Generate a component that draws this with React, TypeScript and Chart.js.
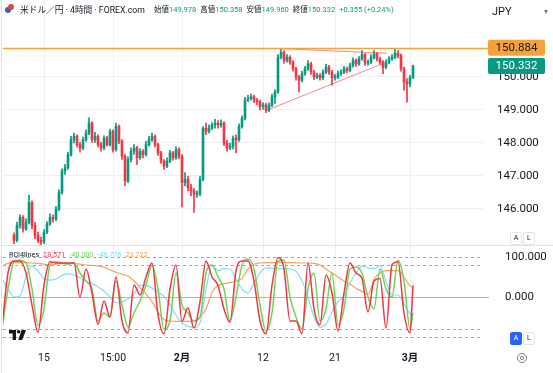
import React, { useEffect, useRef } from "react";
import { Chart, registerables } from "chart.js";
Chart.register(...registerables);

const FONT = 'Roboto, "Noto Sans CJK JP", sans-serif';
const UP = "#089981";
const DOWN = "#f23645";
const ORANGE = "#f5a23a";
const TEXT = "#131722";

// ---- price data (4h candles) ----
const opens = [145.2,145.05,145.5,145.75,145.4,145.6,146.2,145.5,145.2,145.05,
145.0,145.3,145.55,145.75,145.7,146.0,146.5,147.15,147.25,147.65,
148.1,148.2,147.95,147.85,148.1,148.3,148.6,148.1,148.2,147.95,
147.85,148.15,147.95,148.35,147.8,148.5,148.05,147.6,146.85,147.5,
147.75,147.85,147.55,147.75,147.65,147.95,148.1,148.2,147.95,147.7,
147.45,147.3,147.45,147.7,147.55,147.8,147.6,146.8,146.9,146.65,
146.55,146.45,146.45,146.9,148.45,148.35,148.45,148.55,148.6,148.55,
148.6,148.0,147.85,147.9,148.15,148.1,148.5,148.75,149.3,149.35,
149.4,149.3,149.25,149.1,149.15,149.0,149.15,149.4,149.55,150.6,
150.75,150.5,150.6,150.45,150.25,150.0,149.9,150.1,150.25,150.4,
150.15,150.0,150.05,149.98,150.15,150.3,150.15,149.98,150.0,150.1,
150.15,150.25,150.2,150.35,150.5,150.4,150.55,150.68,150.42,150.45,
150.6,150.7,150.55,150.45,150.3,150.45,150.55,150.6,150.72,150.65,
150.25,149.85,149.8,149.978];
const highs = [145.28,145.6,145.82,145.8,145.7,146.42,146.25,145.6,145.3,145.15,
145.38,145.62,145.85,145.82,146.08,146.58,147.22,147.35,147.72,148.2,
148.3,148.25,148.02,148.18,148.4,148.76,148.65,148.32,148.25,148.02,
148.22,148.2,148.42,148.4,148.6,148.55,148.1,147.65,147.58,147.85,
147.95,147.9,147.82,147.8,148.05,148.2,148.3,148.25,148.0,147.75,
147.5,147.55,147.78,147.75,147.88,147.85,147.65,147.1,147.0,146.75,
146.62,146.55,147.0,148.5,148.6,148.55,148.62,148.72,148.68,148.7,
148.65,148.08,148.0,148.22,148.25,148.58,148.82,149.38,149.45,149.48,
149.45,149.35,149.3,149.22,149.2,149.22,149.48,149.62,150.68,150.86,
150.8,150.68,150.65,150.5,150.3,150.05,150.18,150.32,150.5,150.45,
150.2,150.12,150.1,150.22,150.38,150.35,150.2,150.08,150.18,150.22,
150.32,150.3,150.42,150.58,150.55,150.62,150.8,150.72,150.52,150.68,
150.8,150.75,150.6,150.5,150.52,150.62,150.68,150.87,150.8,150.7,
150.3,149.95,150.05,150.358];
const lows = [144.95,145.0,145.42,145.3,145.35,145.55,145.4,145.1,144.98,144.92,
144.95,145.25,145.5,145.6,145.65,145.95,146.45,147.05,147.2,147.6,
148.0,147.88,147.72,147.8,148.05,148.25,148.02,148.02,147.88,147.75,
147.8,147.9,147.9,147.72,147.75,147.98,147.5,146.7,146.8,147.42,
147.65,147.35,147.5,147.55,147.6,147.9,148.05,147.88,147.62,147.38,
147.2,147.25,147.4,147.48,147.5,147.52,146.06,146.7,146.55,146.4,
145.9,146.35,146.4,146.85,148.25,148.3,148.4,148.45,148.45,148.48,
147.92,147.75,147.8,147.82,147.7,148.05,148.45,148.7,149.25,149.3,
149.22,149.15,149.0,149.02,148.92,148.95,149.1,149.2,149.5,150.55,
150.42,150.45,150.38,150.18,149.9,149.55,149.85,150.05,150.2,150.08,
149.92,149.95,149.9,149.92,150.1,150.08,149.75,149.9,149.95,150.05,
150.1,150.12,150.15,150.3,150.32,150.35,150.5,150.35,150.35,150.4,
150.55,150.48,150.38,150.1,150.25,150.4,150.5,150.55,150.58,150.18,
149.6,149.24,149.7,149.96];
const closes = [145.05,145.5,145.75,145.4,145.6,146.2,145.5,145.2,145.05,145.0,
145.3,145.55,145.75,145.7,146.0,146.5,147.15,147.25,147.65,148.1,
148.2,147.95,147.85,148.1,148.3,148.6,148.1,148.2,147.95,147.85,
148.15,147.95,148.35,147.8,148.5,148.05,147.6,146.85,147.5,147.75,
147.85,147.55,147.75,147.65,147.95,148.1,148.2,147.95,147.7,147.45,
147.3,147.45,147.7,147.55,147.8,147.6,146.8,146.9,146.65,146.55,
146.45,146.45,146.9,148.45,148.35,148.45,148.55,148.6,148.55,148.6,
148.0,147.85,147.9,148.15,148.1,148.5,148.75,149.3,149.35,149.4,
149.3,149.25,149.1,149.15,149.0,149.15,149.4,149.55,150.6,150.75,
150.5,150.6,150.45,150.25,150.0,149.9,150.1,150.25,150.4,150.15,
150.0,150.05,149.98,150.15,150.3,150.15,149.98,150.0,150.1,150.15,
150.25,150.2,150.35,150.5,150.4,150.55,150.68,150.42,150.45,150.6,
150.7,150.55,150.45,150.3,150.45,150.55,150.6,150.72,150.65,150.25,
149.85,149.8,149.978,150.332];

const timeTickIdx = [10, 33, 56, 83, 107, 132];
const timeTickLabels = ["15", "15:00", "2月", "12", "21", "3月"];
const boldTickLabels = ["2月", "3月"];
const priceTicks = [146, 147, 148, 149, 150];
const resistanceLevel = 150.884;
const trendUpperIdx = [88.7, 124.3];
const trendUpperPrice = [150.86, 150.72];
const trendLowerIdx = [83.7, 123.3];
const trendLowerPrice = [148.97, 150.42];

// ---- RCI 4 lines ----
const rciIdx = [-4,-2,0,2,4,6,8,10,12,14,
16,18,20,22,24,26,28,30,32,34,
36,38,40,42,44,46,48,50,52,54,
56,58,60,62,64,66,68,70,72,74,
76,78,80,82,84,86,88,90,92,94,
96,98,100,102,104,106,108,110,112,114,
116,118,120,122,124,126,128,130,132,133];
const rciShort = [-76,60,90,90,60,-20,-88,30,88,85,
85,85,85,0,70,10,-68,-10,-50,50,
-60,-90,30,5,50,85,-44,-92,20,80,
-61,-27,-78,-12,90,50,29,-30,-63,65,
90,90,40,-60,-92,29,98,70,-60,-60,
-92,85,-30,-70,55,10,-85,10,85,60,
46,-37,40,46,-78,80,88,-40,-90,28.571];
const rciMid = [-80,20,88,92,85,20,-70,-30,80,88,
85,82,85,60,40,20,-60,-40,-50,40,
-20,-75,-40,-10,30,80,20,-80,-60,60,
-20,-40,-60,-50,60,80,50,20,-60,0,
80,95,70,-20,-85,-40,90,92,0,-50,
-80,20,60,-60,-30,60,-70,-30,70,75,
60,0,-30,70,20,0,92,40,-80,-40];
const rciLong = [46,20,0,2,50,78,65,45,42,45,
54,58,55,48,40,34,25,15,0,-15,
-12,-5,8,29,29,22,12,2,-20,-45,
-65,-73,-76,-65,20,78,66,71,70,45,
20,10,35,60,73,72,71,71,70,64,
40,0,-50,-76,-68,-37,-12,3,35,60,
78,72,71,78,40,5,5,-18,-42,-48.776];
const rciVeryLong = [78,84,86,86,86,85,84,82,80,82,
84,85,84,82,80,79,78,74,68,62,
57,52,40,24,8,-12,-38,-56,-60,-61,
-61,-61,-60,-50,-30,12,29,33,36,40,
46,70,82,85,86,86,86,86,86,86,
85,85,84,80,70,60,50,40,32,22,
14,6,44,60,66,66,66,50,28,23.722];
const rciTicks = [0, 100];
const rciZero = 0;
const rciLevels = [100, 80, -80, -100];

const RCI_COLORS = ["#f23645", "#72d35b", "#7fe0ee", "#f5a25c"];

const X_MIN = -3.667;
const X_MAX = 156.333;

const priceOverlay = {
  id: "priceOverlay",
  afterDatasetsDraw(chart: any) {
    const { ctx, chartArea: a, scales } = chart;
    const y = scales.y;
    ctx.save();
    const ry = Math.round(y.getPixelForValue(resistanceLevel)) + 0.5;
    ctx.strokeStyle = ORANGE;
    ctx.lineWidth = 1.5;
    ctx.beginPath();
    ctx.moveTo(a.left, ry);
    ctx.lineTo(a.right + 6, ry);
    ctx.stroke();
    const box = (val: number, bg: string, fg: string) => {
      const cy = y.getPixelForValue(val);
      const x0 = a.right + 5;
      ctx.fillStyle = bg;
      ctx.beginPath();
      if (ctx.roundRect) ctx.roundRect(x0, cy - 8, 57, 16, 2);
      else ctx.rect(x0, cy - 8, 57, 16);
      ctx.fill();
      ctx.fillStyle = fg;
      ctx.font = `11.5px ${FONT}`;
      ctx.textAlign = "center";
      ctx.textBaseline = "middle";
      ctx.fillText(val.toFixed(3), x0 + 28.5, cy + 0.5);
    };
    box(resistanceLevel, ORANGE, TEXT);
    box(closes[closes.length - 1], UP, "#ffffff");
    ctx.restore();
  },
};

const rciOverlay = {
  id: "rciOverlay",
  beforeDatasetsDraw(chart: any) {
    const { ctx, chartArea: a, scales } = chart;
    const y = scales.y;
    ctx.save();
    ctx.lineWidth = 1;
    ctx.strokeStyle = "#b2b5be";
    const zy = Math.round(y.getPixelForValue(rciZero)) + 0.5;
    ctx.beginPath();
    ctx.moveTo(a.left, zy);
    ctx.lineTo(a.right + 6, zy);
    ctx.stroke();
    ctx.setLineDash([3, 3]);
    ctx.strokeStyle = "#a3a6af";
    rciLevels.forEach((lv) => {
      const ly = Math.round(y.getPixelForValue(lv)) + 0.5;
      ctx.beginPath();
      ctx.moveTo(a.left, ly);
      ctx.lineTo(a.right, ly);
      ctx.stroke();
    });
    ctx.restore();
  },
};

export default function App() {
  const priceRef = useRef<HTMLCanvasElement>(null);
  const rciRef = useRef<HTMLCanvasElement>(null);

  useEffect(() => {
    document.body.style.margin = "0";
    const candleColors = closes.map((c, i) => (c >= opens[i] ? UP : DOWN));
    const pc = new Chart(priceRef.current as HTMLCanvasElement, {
      type: "bar",
      data: {
        datasets: [
          {
            type: "line",
            data: trendUpperIdx.map((x, k) => ({ x, y: trendUpperPrice[k] })),
            borderColor: "rgba(242,54,69,0.6)",
            borderWidth: 1,
            pointRadius: 0,
            order: 0,
          },
          {
            type: "line",
            data: trendLowerIdx.map((x, k) => ({ x, y: trendLowerPrice[k] })),
            borderColor: "rgba(242,54,69,0.6)",
            borderWidth: 1,
            pointRadius: 0,
            order: 0,
          },
          {
            type: "bar",
            data: closes.map((c, i) => ({ x: i, y: [opens[i], c] })),
            backgroundColor: candleColors,
            barThickness: 2,
            minBarLength: 1,
            grouped: false,
            order: 1,
          },
          {
            type: "bar",
            data: closes.map((c, i) => ({ x: i, y: [lows[i], highs[i]] })),
            backgroundColor: candleColors,
            barThickness: 1,
            grouped: false,
            order: 2,
          },
        ],
      } as any,
      options: {
        responsive: false,
        animation: false,
        events: [],
        layout: { padding: 0 },
        plugins: { legend: { display: false }, tooltip: { enabled: false } },
        scales: {
          x: {
            type: "linear",
            min: X_MIN,
            max: X_MAX,
            offset: false,
            grid: { color: "#eef0f5", drawTicks: false, offset: false },
            border: { display: false },
            ticks: { display: false },
            afterBuildTicks: (s: any) => {
              s.ticks = timeTickIdx.map((v) => ({ value: v }));
            },
          },
          y: {
            position: "right",
            min: 144.909,
            max: 152.333,
            grid: { color: "#eef0f5", drawTicks: false },
            border: { display: false },
            ticks: {
              padding: 14,
              color: TEXT,
              font: { family: FONT, size: 11.5 },
              callback: (v: any) => Number(v).toFixed(3),
            },
            afterBuildTicks: (s: any) => {
              s.ticks = priceTicks.map((v) => ({ value: v }));
            },
            afterFit: (s: any) => {
              s.width = 70;
              s.paddingTop = 0;
              s.paddingBottom = 0;
            },
          },
        },
      } as any,
      plugins: [priceOverlay],
    });

    const rciSeries = [rciShort, rciMid, rciLong, rciVeryLong];
    const rc = new Chart(rciRef.current as HTMLCanvasElement, {
      type: "line",
      data: {
        datasets: rciSeries.map((arr, k) => ({
          data: rciIdx.map((x, j) => ({ x, y: arr[j] })),
          borderColor: RCI_COLORS[k],
          borderWidth: k < 2 ? 1.5 : 1.2,
          pointRadius: 0,
          cubicInterpolationMode: "monotone",
          order: k,
        })),
      } as any,
      options: {
        responsive: false,
        animation: false,
        events: [],
        layout: { padding: 0 },
        plugins: { legend: { display: false }, tooltip: { enabled: false } },
        scales: {
          x: {
            type: "linear",
            min: X_MIN,
            max: X_MAX,
            grid: { color: "#eef0f5", drawTicks: false },
            border: { display: false },
            ticks: {
              padding: 12,
              autoSkip: false,
              maxRotation: 0,
              color: TEXT,
              font: (c: any) => ({
                family: FONT,
                size: 10.5,
                weight: boldTickLabels.includes(timeTickLabels[c.index]) ? "bold" : "normal",
              }),
              callback: (_v: any, i: number) => timeTickLabels[i],
            },
            afterBuildTicks: (s: any) => {
              s.ticks = timeTickIdx.map((v) => ({ value: v }));
            },
            afterFit: (s: any) => {
              s.height = 33;
              s.paddingLeft = 0;
              s.paddingRight = 0;
            },
          },
          y: {
            position: "right",
            min: -107.5,
            max: 127.5,
            grid: { display: false },
            border: { display: false },
            ticks: {
              padding: 14,
              color: TEXT,
              font: { family: FONT, size: 11.5 },
              callback: (v: any) => Number(v).toFixed(3),
            },
            afterBuildTicks: (s: any) => {
              s.ticks = rciTicks.map((v) => ({ value: v }));
            },
            afterFit: (s: any) => {
              s.width = 70;
              s.paddingTop = 0;
              s.paddingBottom = 0;
            },
          },
        },
      } as any,
      plugins: [rciOverlay],
    });

    return () => {
      pc.destroy();
      rc.destroy();
    };
  }, []);

  const btn: React.CSSProperties = {
    position: "absolute",
    width: 10,
    height: 11,
    border: "1px solid #e0e3eb",
    borderRadius: 2,
    fontSize: 7,
    lineHeight: "11px",
    textAlign: "center",
    color: TEXT,
    background: "#fff",
    boxSizing: "content-box",
  };

  return (
    <div style={{ position: "relative", width: 553, height: 373, overflow: "hidden", background: "#fff", fontFamily: FONT, color: TEXT }}>
      <canvas ref={priceRef} width={550} height={245} style={{ position: "absolute", left: 3, top: 0 }} />
      <canvas ref={rciRef} width={550} height={127} style={{ position: "absolute", left: 3, top: 246 }} />
      <div style={{ position: "absolute", left: 0, top: 245, width: 553, height: 1, background: "#e0e3eb" }} />
      <div style={{ position: "absolute", left: 1, top: 0, width: 1, height: 373, background: "#e0e3eb" }} />

      {/* header */}
      <div style={{ position: "absolute", left: 5, top: 7, width: 6, height: 6, borderRadius: 3, background: "#3b5cc4" }} />
      <div style={{ position: "absolute", left: 8, top: 4, width: 6, height: 6, borderRadius: 3, background: "#e2453c" }} />
      <div style={{ position: "absolute", left: 20, top: 3, fontSize: 8.7, lineHeight: "14px", whiteSpace: "nowrap" }}>
        米ドル／円 · 4時間 · FOREX.com
      </div>
      <div style={{ position: "absolute", left: 154, top: 4, fontSize: 7.5, lineHeight: "12px", display: "flex", gap: 4, whiteSpace: "nowrap" }}>
        <span>始値<span style={{ color: UP }}>149.978</span></span>
        <span>高値<span style={{ color: UP }}>150.358</span></span>
        <span>安値<span style={{ color: UP }}>149.960</span></span>
        <span>終値<span style={{ color: UP }}>150.332</span></span>
        <span style={{ color: UP }}>+0.355 (+0.24%)</span>
      </div>
      <div style={{ position: "absolute", left: 492, top: 4, fontSize: 11, lineHeight: "16px" }}>JPY</div>
      <div style={{ position: "absolute", left: 544, top: 5, fontSize: 8, lineHeight: "14px", color: "#787b86" }}>▾</div>

      {/* RCI legend */}
      <div style={{ position: "absolute", left: 9, top: 249, fontSize: 7.2, lineHeight: "12px", display: "flex", gap: 4, whiteSpace: "nowrap" }}>
        <span>RCI4lines</span>
        <span style={{ color: RCI_COLORS[0] }}>28.571</span>
        <span style={{ color: RCI_COLORS[1] }}>-40.000</span>
        <span style={{ color: RCI_COLORS[2] }}>-48.776</span>
        <span style={{ color: RCI_COLORS[3] }}>23.722</span>
      </div>

      {/* buttons */}
      <div style={{ ...btn, left: 510, top: 232 }}>A</div>
      <div style={{ ...btn, left: 523, top: 232 }}>L</div>
      <div style={{ ...btn, left: 510, top: 332, background: "#2962ff", color: "#fff", border: "1px solid #2962ff" }}>A</div>
      <div style={{ ...btn, left: 523, top: 332 }}>L</div>

      {/* TV logo */}
      <svg style={{ position: "absolute", left: 9, top: 330 }} width={18} height={10} viewBox="0 0 18 10">
        <path d="M0 0 H7 V10 H3.6 V3.4 H0 Z" fill="#131722" />
        <circle cx={9.6} cy={1.8} r={1.8} fill="#131722" />
        <path d="M12.6 0 H17 L13.2 10 H9.2 Z" fill="#131722" />
      </svg>

      {/* gear */}
      <svg style={{ position: "absolute", left: 516, top: 352 }} width={12} height={12} viewBox="0 0 12 12">
        <circle cx={6} cy={6} r={4.5} fill="none" stroke="#787b86" strokeWidth={1} />
        <circle cx={6} cy={6} r={1.6} fill="none" stroke="#787b86" strokeWidth={1} />
      </svg>
    </div>
  );
}
